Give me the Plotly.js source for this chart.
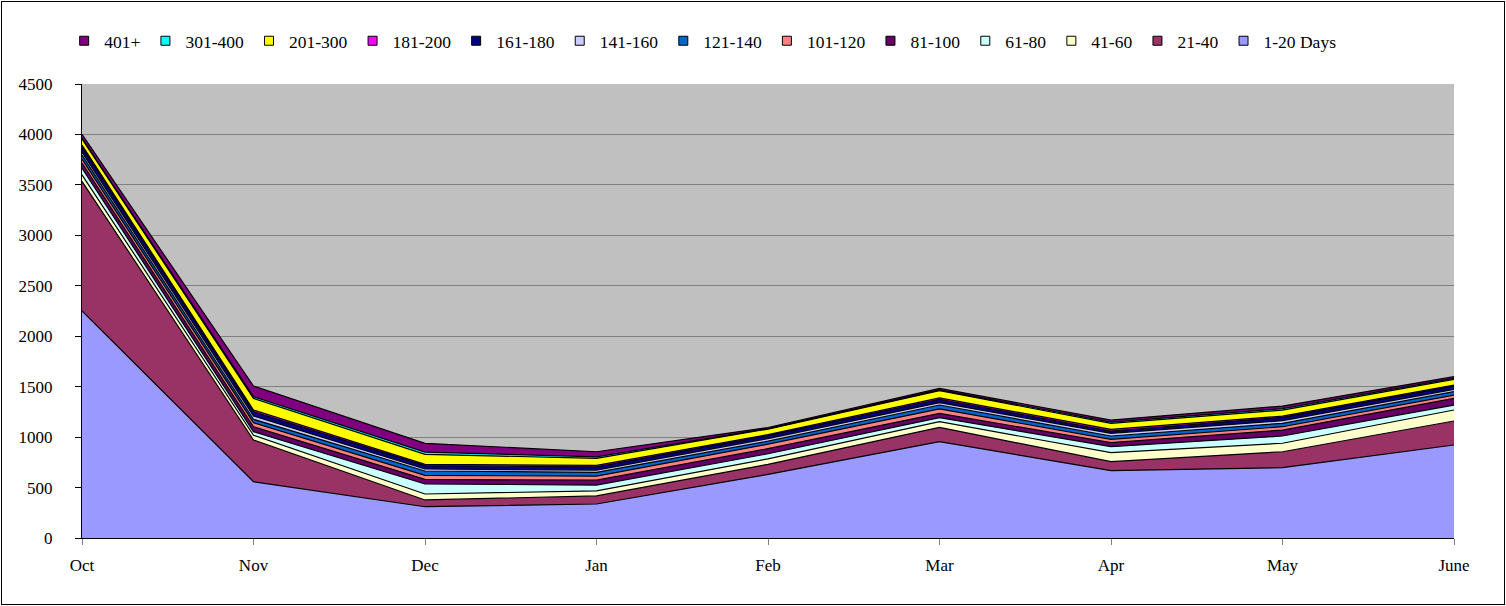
<!DOCTYPE html>
<html>
<head>
<meta charset="utf-8">
<script src="https://cdn.plot.ly/plotly-3.0.1.min.js"></script>
<style>
html,body{margin:0;padding:0;background:#fff;}
#frame{position:absolute;left:1px;top:1px;width:1502px;height:602px;border:1px solid #000;}
#chart{position:absolute;left:0;top:0;width:1502px;height:602px;}
</style>
</head>
<body>
<div id="frame"><div id="chart"></div></div>
<script>
const months = ["Oct","Nov","Dec","Jan","Feb","Mar","Apr","May","June"];
const seriesNames = ["1-20 Days","21-40","41-60","61-80","81-100","101-120","121-140","141-160","161-180","181-200","201-300","301-400","401+"];
const d1_20    = [2250, 558, 310, 337, 630, 955, 667, 697, 922];
const d21_40   = [1285, 413,  67,  80, 100, 142,  90, 158, 238];
const d41_60   = [  65,  47,  59,  50,  55,  56,  89,  84, 109];
const d61_80   = [  65,  36,  99,  58,  50,  40,  59,  72,  49];
const d81_100  = [  50,  49,  46,  48,  50,  43,  40,  59,  66];
const d101_120 = [  40,  40,  40,  40,  45,  43,  33,  33,  33];
const d121_140 = [  40,  33,  43,  38,  30,  39,  33,  34,  33];
const d141_160 = [  30,  33,  20,  22,  25,  23,  27,  26,  24];
const d161_180 = [  50,  43,  33,  32,  30,  34,  22,  33,  32];
const d181_200 = [  20,  16,  13,  15,  10,  13,  17,  13,  10];
const d201_300 = [  60, 116,  99,  70,  55,  72,  60,  59,  57];
const d301_400 = [  10,  16,  23,  15,   5,   8,  12,  15,  10];
const d401p    = [  35, 106,  86,  50,  10,  15,  20,  25,  16];
const seriesValues = [d1_20,d21_40,d41_60,d61_80,d81_100,d101_120,d121_140,d141_160,d161_180,d181_200,d201_300,d301_400,d401p];
const seriesColors = ["#9999FF","#993366","#FFFFCC","#CCFFFF","#660066","#FF8080","#0066CC","#CCCCFF","#000080","#FF00FF","#FFFF00","#00FFFF","#800080"];
const yTicks = [0,500,1000,1500,2000,2500,3000,3500,4000,4500];

const areaTraces = seriesNames.map((n,i)=>({
  type:'scatter', mode:'lines', x:months, y:seriesValues[i], name:n,
  stackgroup:'one', fillcolor:seriesColors[i], showlegend:false,
  line:{color:'#000000', width:1.2}
}));
// legend-only entries with square swatches
const legendTraces = seriesNames.map((n,i)=>({
  type:'scatter', mode:'markers', x:[null], y:[null], name:n,
  marker:{symbol:'square', size:9, color:seriesColors[i], line:{color:'#000', width:1}},
  showlegend:true
}));

const font = {family:'"Liberation Serif", "Times New Roman", serif', size:17, color:'#000'};
const layout = {
  width:1502, height:602,
  margin:{l:80, r:50, t:82, b:66},
  paper_bgcolor:'#ffffff', plot_bgcolor:'#C0C0C0',
  font:font,
  showlegend:true,
  legend:{orientation:'h', x:-0.013, xanchor:'left', y:1.095, yanchor:'middle', traceorder:'reversed',
          font:{family:font.family, size:17.5, color:'#000'}, itemwidth:30, bgcolor:'rgba(0,0,0,0)'},
  xaxis:{type:'category', range:[0,8], showgrid:false, zeroline:false,
         showline:true, linecolor:'#000', linewidth:1, ticks:'outside', ticklen:6, tickcolor:'#808080',
         tickfont:font, ticklabelstandoff:6},
  yaxis:{range:[0,4500], tickvals:yTicks, ticktext:yTicks.map(String), showgrid:true, gridcolor:'#808080', gridwidth:1,
         zeroline:false, showline:true, linecolor:'#000', linewidth:1, ticks:'outside', ticklen:6, tickcolor:'#000',
         tickfont:font, ticklabelstandoff:19}
};
Plotly.newPlot('chart', areaTraces.concat(legendTraces), layout, {displayModeBar:false, staticPlot:true});
</script>
</body>
</html>
